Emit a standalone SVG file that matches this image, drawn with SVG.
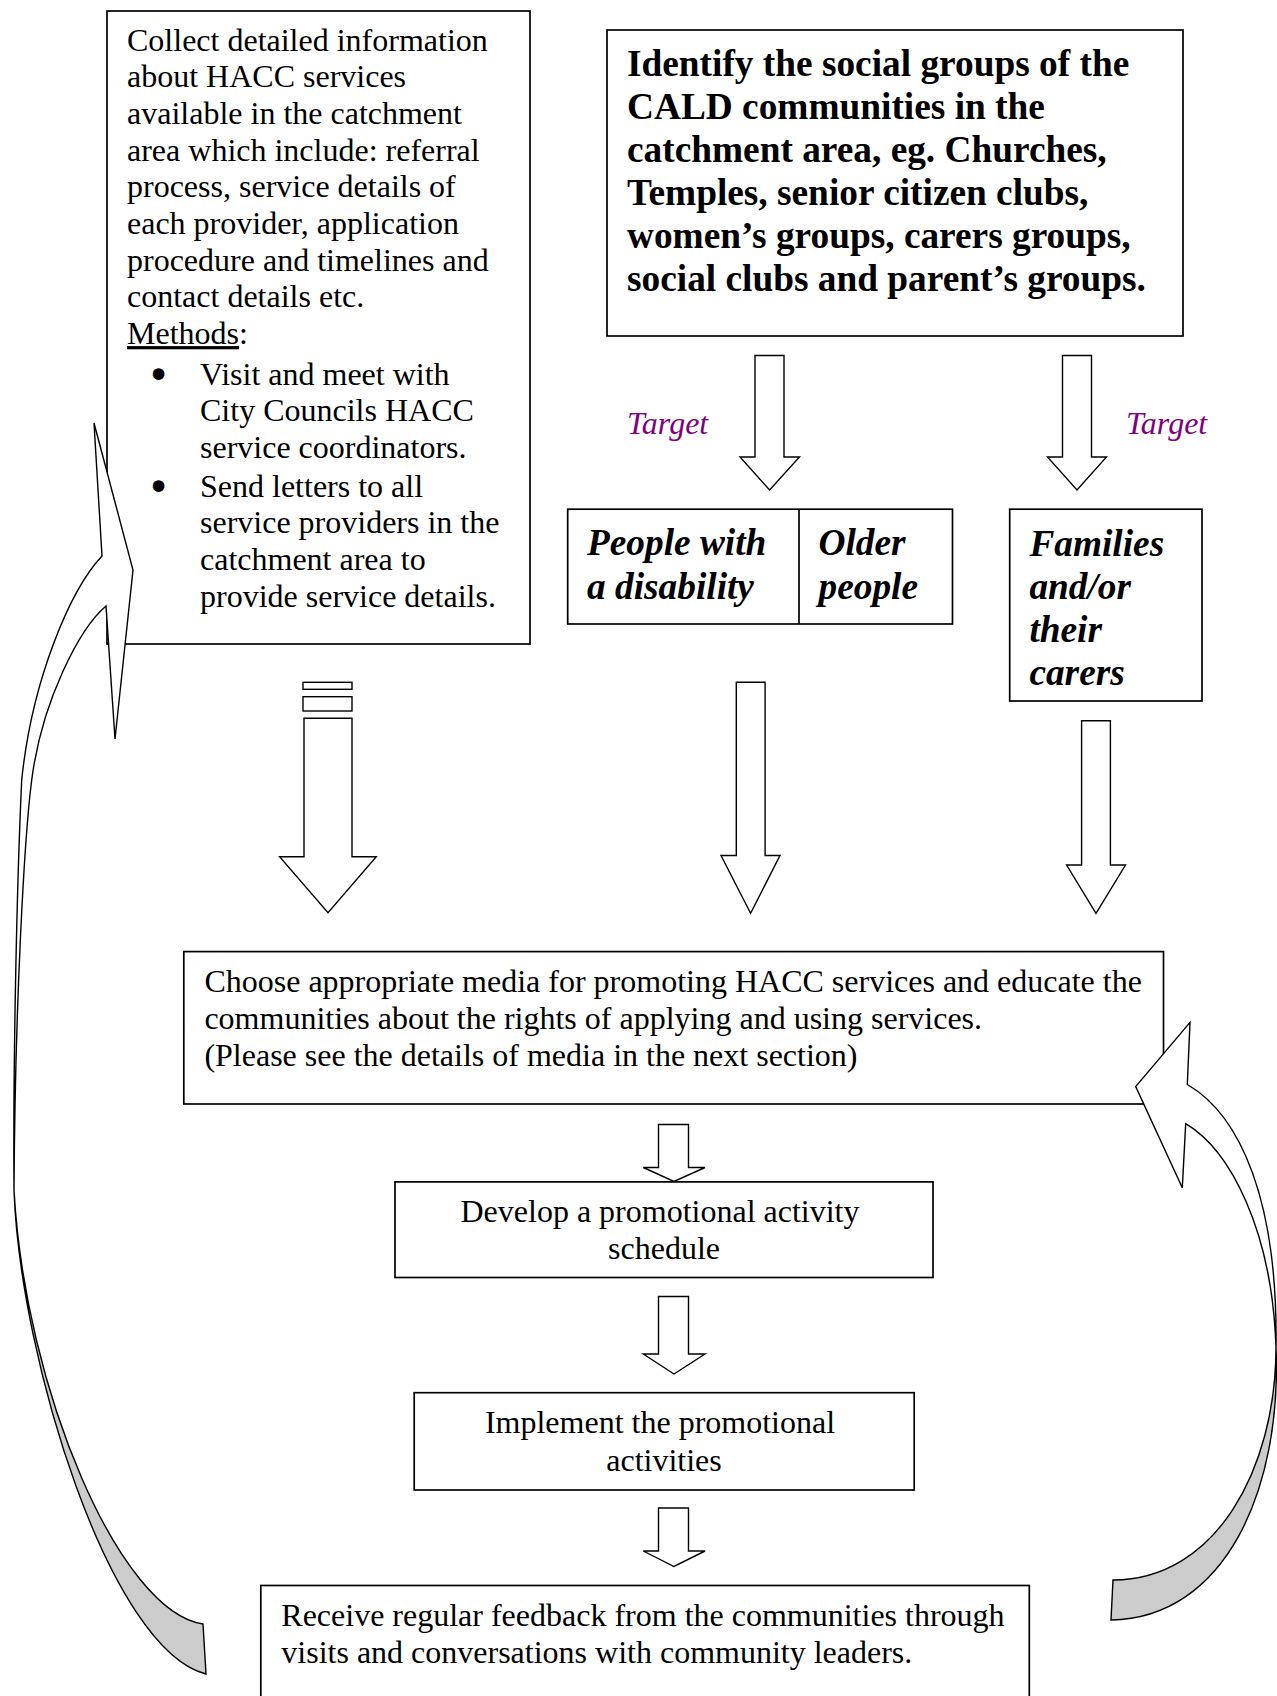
<svg xmlns="http://www.w3.org/2000/svg" width="1277" height="1696" viewBox="0 0 1277 1696">
<style>
.box{fill:#fff;stroke:#000;stroke-width:1.7}
.arr{fill:#fff;stroke:#000;stroke-width:1.4;stroke-linejoin:miter}
.cw{fill:#fff;stroke:#000;stroke-width:1.4;stroke-linejoin:miter}
.cg{fill:#cccccc;stroke:#000;stroke-width:1.4}
.t{font-family:"Liberation Serif","Times New Roman",serif;font-size:32px;fill:#000}
.bul{font-family:"DejaVu Sans",sans-serif;font-size:40px;fill:#000;text-anchor:middle}
.b{font-family:"Liberation Serif","Times New Roman",serif;font-size:37.33px;font-weight:bold;fill:#000}
.bi{font-family:"Liberation Serif","Times New Roman",serif;font-size:37.33px;font-weight:bold;font-style:italic;fill:#000}
.tg{font-family:"Liberation Serif","Times New Roman",serif;font-size:32px;font-style:italic;fill:#800080}
.c{text-anchor:middle}
</style>
<rect width="1277" height="1696" fill="#fff"/>
<g id="collect-info">
<rect class="box" x="107" y="11" width="423" height="633"/>
<text class="t">
<tspan x="127" y="50.5">Collect detailed information</tspan>
<tspan x="127" y="87.2">about HACC services</tspan>
<tspan x="127" y="123.9">available in the catchment</tspan>
<tspan x="127" y="160.6">area which include: referral</tspan>
<tspan x="127" y="197.3">process, service details of</tspan>
<tspan x="127" y="234">each provider, application</tspan>
<tspan x="127" y="270.7">procedure and timelines and</tspan>
<tspan x="127" y="307.4">contact details etc.</tspan>
<tspan x="127" y="344.1"><tspan style="text-decoration:underline">Methods</tspan>:</tspan>
<tspan x="200" y="384.5">Visit and meet with</tspan>
<tspan x="200" y="421.2">City Councils HACC</tspan>
<tspan x="200" y="457.9">service coordinators.</tspan>
<tspan x="200" y="496.5">Send letters to all</tspan>
<tspan x="200" y="533.2">service providers in the</tspan>
<tspan x="200" y="569.9">catchment area to</tspan>
<tspan x="200" y="606.6">provide service details.</tspan>
</text>
<text class="bul"><tspan x="158.5" y="389">•</tspan><tspan x="158.5" y="501">•</tspan></text>
</g>
<g id="identify-groups">
<rect class="box" x="607" y="30" width="576" height="306"/>
<text class="b">
<tspan x="627" y="76">Identify the social groups of the</tspan>
<tspan x="627" y="119">CALD communities in the</tspan>
<tspan x="627" y="162">catchment area, eg. Churches,</tspan>
<tspan x="627" y="205">Temples, senior citizen clubs,</tspan>
<tspan x="627" y="248">women’s groups, carers groups,</tspan>
<tspan x="627" y="291">social clubs and parent’s groups.</tspan>
</text>
</g>
<g id="target-labels">
<text class="tg" x="627" y="434">Target</text>
<text class="tg" x="1126" y="434">Target</text>
</g>
<g id="disability-older">
<rect class="box" x="567.7" y="509.2" width="384.8" height="114.8"/>
<line x1="799" y1="509.2" x2="799" y2="624" stroke="#000" stroke-width="1.7"/>
<text class="bi">
<tspan x="587" y="555">People with</tspan>
<tspan x="587" y="598.5">a disability</tspan>
</text>
<text class="bi">
<tspan x="818.5" y="555">Older</tspan>
<tspan x="818.5" y="598.5">people</tspan>
</text>
</g>
<g id="families">
<rect class="box" x="1009.7" y="509.2" width="192.3" height="191.8"/>
<text class="bi">
<tspan x="1029.4" y="555.5">Families</tspan>
<tspan x="1029.4" y="598.7">and/or</tspan>
<tspan x="1029.4" y="641.9">their</tspan>
<tspan x="1029.4" y="685">carers</tspan>
</text>
</g>
<g id="choose-media">
<rect class="box" x="183.8" y="951.6" width="979.7" height="152.4"/>
<text class="t">
<tspan x="204.4" y="991.5">Choose appropriate media for promoting HACC services and educate the</tspan>
<tspan x="204.4" y="1028.5">communities about the rights of applying and using services.</tspan>
<tspan x="204.4" y="1065.5">(Please see the details of media in the next section)</tspan>
</text>
</g>
<g id="develop-schedule">
<rect class="box" x="395" y="1181.9" width="538" height="95.6"/>
<text class="t c">
<tspan x="664" y="1221.5">Develop a promotional activity</tspan>
<tspan x="664" y="1259">schedule</tspan>
</text>
</g>
<g id="implement">
<rect class="box" x="414.2" y="1392.7" width="500" height="97.3"/>
<text class="t c">
<tspan x="664" y="1432.5">Implement the promotional</tspan>
<tspan x="664" y="1470.5">activities</tspan>
</text>
</g>
<g id="feedback">
<rect class="box" x="260.8" y="1585.5" width="768.5" height="130"/>
<text class="t">
<tspan x="281.3" y="1625.5">Receive regular feedback from the communities through</tspan>
<tspan x="281.3" y="1662.5">visits and conversations with community leaders.</tspan>
</text>
</g>
<g id="connectors">
<polygon class="arr" points="755,355.5 784,355.5 784,457 799.5,457 769.6,490 740,457 755,457"/>
<polygon class="arr" points="1062.5,355.5 1091.5,355.5 1091.5,457 1106.5,457 1077,490 1047.5,457 1062.5,457"/>
<rect class="arr" x="303" y="682.3" width="49" height="7"/>
<rect class="arr" x="303" y="696.7" width="49" height="14.3"/>
<polygon class="arr" points="304,718.3 352,718.3 352,856.7 376.3,856.7 328,912.7 279.6,856.7 304,856.7"/>
<polygon class="arr" points="736.3,682.3 765.1,682.3 765.1,855.5 780,855.5 750.6,913.3 721,855.5 736.3,855.5"/>
<polygon class="arr" points="1081.6,720.7 1110.4,720.7 1110.4,865 1125.5,865 1096,913.3 1066.6,865 1081.6,865"/>
<polygon class="arr" points="658.5,1124.5 688.5,1124.5 688.5,1167.5 705,1167.5 674,1181.5 643.3,1167.5 658.5,1167.5"/>
<polygon class="arr" points="658.5,1296.5 688.5,1296.5 688.5,1354 705,1354 674,1374 643.3,1354 658.5,1354"/>
<polygon class="arr" points="658.5,1508 688.5,1508 688.5,1551 705,1551 674,1566.5 643.3,1551 658.5,1551"/>
<path class="cg" d="M14,1190 C20,1360 110,1650 206,1674 L203,1624 C120,1612 25,1390 14,1190 Z"/>
<path class="cw" d="M102,556 L94,423 L133,570 L115,739 L106,606 C80,628 42,700 31.7,780 C24,840 15,1010 14,1190 C13,1060 17,880 21.7,780 C32,680 70,590 102,556 Z"/>
<path class="cg" d="M1276,1347 C1282,1490 1225,1618 1111,1620 L1113,1580 C1215,1580 1276,1470 1276,1347 Z"/>
<path class="cw" d="M1187.3,1084.5 L1190,1022.4 L1135.7,1086.5 L1182.3,1187.8 L1185.7,1123.7 C1230,1150 1272,1230 1276,1347 C1278,1200 1240,1115 1187.3,1084.5 Z"/>
</g>
</svg>
